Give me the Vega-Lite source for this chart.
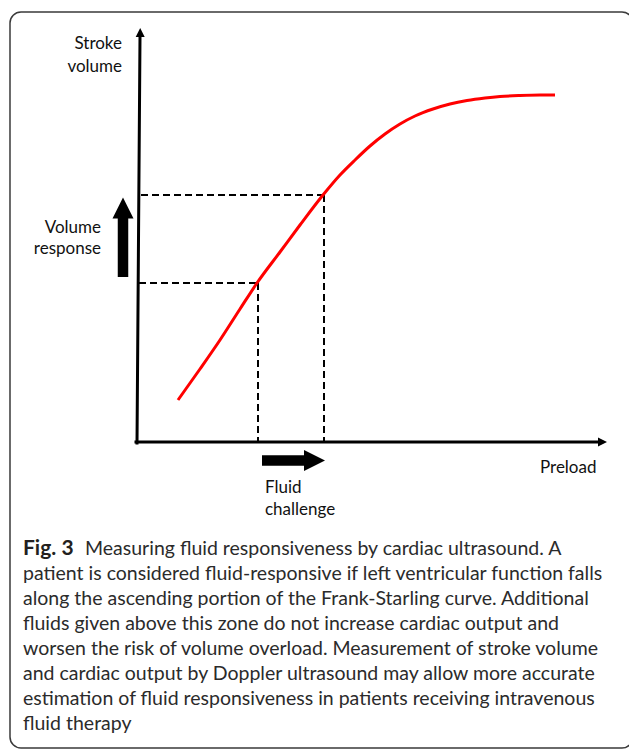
{
  "$schema": "https://vega.github.io/schema/vega-lite/v6.json",
  "width": 629,
  "height": 749,
  "autosize": {"type": "none"},
  "padding": 0,
  "background": "white",
  "config": {"view": {"stroke": null}},
  "datasets": {
    "box": [{"x": 10, "x2": 633, "y": 12, "y2": 748}],
    "axes": [
      {"x": 140, "y": 37, "x2": 137, "y2": 443},
      {"x": 136, "y": 442, "x2": 599, "y2": 442}
    ],
    "axisheads": [
      {"x": 140.2, "y": 32.5, "dir": "up"},
      {"x": 602.5, "y": 442, "dir": "right"}
    ],
    "dashes": [
      {"x": 139, "y": 283, "x2": 258, "y2": 283},
      {"x": 258, "y": 283, "x2": 258, "y2": 441},
      {"x": 141, "y": 195, "x2": 324, "y2": 195},
      {"x": 324, "y": 195, "x2": 324, "y2": 441}
    ],
    "curve": [
      {"x": 178, "y": 400}, {"x": 200, "y": 369}, {"x": 220, "y": 340},
      {"x": 240, "y": 309}, {"x": 257, "y": 283}, {"x": 280, "y": 252},
      {"x": 300, "y": 225}, {"x": 323, "y": 195}, {"x": 340, "y": 175},
      {"x": 355, "y": 160}, {"x": 370, "y": 146}, {"x": 385, "y": 134},
      {"x": 400, "y": 124}, {"x": 415, "y": 116}, {"x": 433, "y": 109},
      {"x": 450, "y": 104}, {"x": 467, "y": 100.5}, {"x": 485, "y": 98},
      {"x": 500, "y": 96.5}, {"x": 520, "y": 95.5}, {"x": 540, "y": 95},
      {"x": 555, "y": 95}
    ],
    "shafts": [
      {"x": 123, "y": 277, "x2": 123, "y2": 212},
      {"x": 262, "y": 460.5, "x2": 310, "y2": 460.5}
    ],
    "bigheads": [
      {"x": 123, "y": 208, "dir": "up"},
      {"x": 314.5, "y": 460.5, "dir": "right"}
    ],
    "rlabels": [
      {"x": 122, "y": 49, "t": "Stroke"},
      {"x": 122, "y": 72, "t": "volume"},
      {"x": 101, "y": 233, "t": "Volume"},
      {"x": 101, "y": 254, "t": "response"}
    ],
    "llabels": [
      {"x": 540, "y": 473, "t": "Preload"},
      {"x": 265, "y": 493, "t": "Fluid"},
      {"x": 265, "y": 515, "t": "challenge"}
    ],
    "capbold": [{"x": 23, "y": 555, "t": "Fig. 3"}],
    "caption": [
      {"x": 85, "y": 555, "t": "Measuring fluid responsiveness by cardiac ultrasound. A"},
      {"x": 23, "y": 580, "t": "patient is considered fluid-responsive if left ventricular function falls"},
      {"x": 23, "y": 605, "t": "along the ascending portion of the Frank-Starling curve. Additional"},
      {"x": 23, "y": 630, "t": "fluids given above this zone do not increase cardiac output and"},
      {"x": 23, "y": 655, "t": "worsen the risk of volume overload. Measurement of stroke volume"},
      {"x": 23, "y": 680, "t": "and cardiac output by Doppler ultrasound may allow more accurate"},
      {"x": 23, "y": 705, "t": "estimation of fluid responsiveness in patients receiving intravenous"},
      {"x": 23, "y": 730, "t": "fluid therapy"}
    ]
  },
  "resolve": {"scale": {"x": "shared", "y": "shared"}},
  "encoding": {
    "x": {"field": "x", "type": "quantitative", "scale": {"domain": [0, 629], "nice": false, "zero": false}, "axis": null},
    "y": {"field": "y", "type": "quantitative", "scale": {"domain": [0, 749], "nice": false, "zero": false, "reverse": true}, "axis": null}
  },
  "layer": [
    {
      "data": {"name": "box"},
      "mark": {"type": "rect", "fill": null, "stroke": "#3a3a3a", "strokeWidth": 1.5, "cornerRadius": 11, "clip": false},
      "encoding": {"x2": {"field": "x2"}, "y2": {"field": "y2"}}
    },
    {
      "data": {"name": "dashes"},
      "mark": {"type": "rule", "stroke": "black", "strokeWidth": 2, "strokeDash": [7, 4]},
      "encoding": {"x2": {"field": "x2"}, "y2": {"field": "y2"}}
    },
    {
      "data": {"name": "axes"},
      "mark": {"type": "rule", "stroke": "black", "strokeWidth": 3, "strokeCap": "square"},
      "encoding": {"x2": {"field": "x2"}, "y2": {"field": "y2"}}
    },
    {
      "data": {"name": "axisheads"},
      "mark": {"type": "point", "filled": true, "color": "black", "opacity": 1, "size": 81},
      "encoding": {
        "shape": {"field": "dir", "type": "nominal", "legend": null,
          "scale": {"domain": ["up", "right"], "range": ["M-1,1L0,-1L1,1Z", "M-1,-1L1,0L-1,1Z"]}}
      }
    },
    {
      "data": {"name": "curve"},
      "mark": {"type": "line", "color": "#ff0000", "strokeWidth": 3, "interpolate": "monotone"},
      "encoding": {}
    },
    {
      "data": {"name": "shafts"},
      "mark": {"type": "rule", "stroke": "black", "strokeWidth": 10.5, "strokeCap": "butt"},
      "encoding": {"x2": {"field": "x2"}, "y2": {"field": "y2"}}
    },
    {
      "data": {"name": "bigheads"},
      "mark": {"type": "point", "filled": true, "color": "black", "opacity": 1, "size": 441},
      "encoding": {
        "shape": {"field": "dir", "type": "nominal", "legend": null,
          "scale": {"domain": ["up", "right"], "range": ["M-1,0.5L0,-0.5L1,0.5Z", "M-0.5,-1L0.5,0L-0.5,1Z"]}}
      }
    },
    {
      "data": {"name": "rlabels"},
      "mark": {"type": "text", "align": "right", "baseline": "alphabetic", "font": "Lato", "fontSize": 17, "color": "#111"},
      "encoding": {"text": {"field": "t"}}
    },
    {
      "data": {"name": "llabels"},
      "mark": {"type": "text", "align": "left", "baseline": "alphabetic", "font": "Lato", "fontSize": 17, "color": "#111"},
      "encoding": {"text": {"field": "t"}}
    },
    {
      "data": {"name": "capbold"},
      "mark": {"type": "text", "align": "left", "baseline": "alphabetic", "font": "Lato", "fontSize": 21, "fontWeight": "bold", "color": "#231f20"},
      "encoding": {"text": {"field": "t"}}
    },
    {
      "data": {"name": "caption"},
      "mark": {"type": "text", "align": "left", "baseline": "alphabetic", "font": "Lato", "fontSize": 19.5, "color": "#2b2b2b"},
      "encoding": {"text": {"field": "t"}}
    }
  ]
}
